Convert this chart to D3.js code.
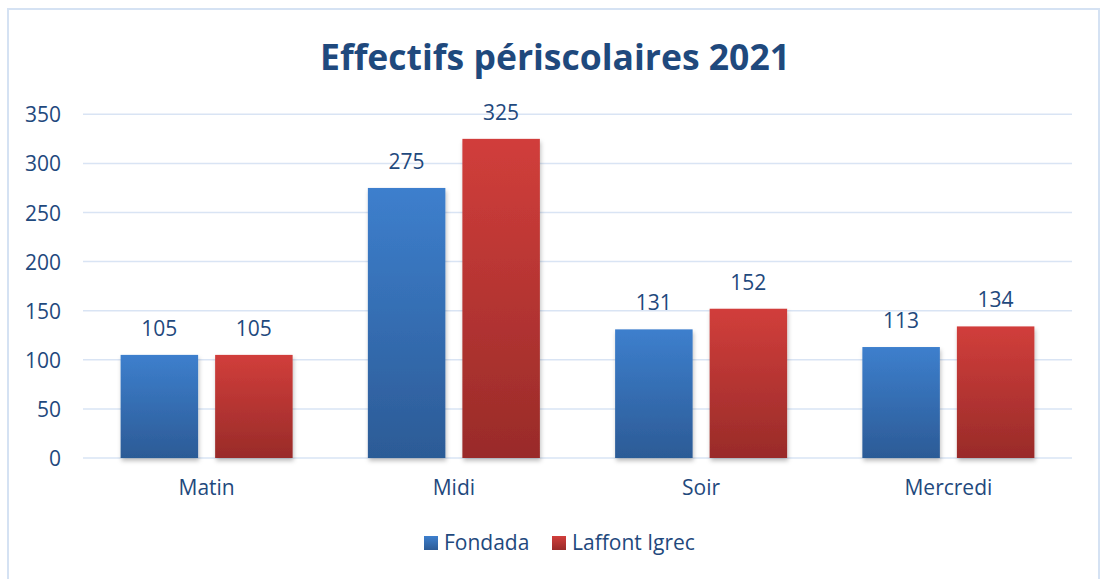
<!DOCTYPE html>
<html><head><meta charset="utf-8">
<script src="https://cdn.jsdelivr.net/npm/d3@7"></script>
<style>body{margin:0;background:#fff;}svg{display:block;font-family:"Open Sans",sans-serif;}</style>
</head><body>
<svg id="c" width="1102" height="579"></svg>
<script>
const categories = ["Matin", "Midi", "Soir", "Mercredi"];
const seriesNames = ["Fondada", "Laffont Igrec"];
const fondada = [105, 275, 131, 113];
const laffont = [105, 325, 152, 134];
const yTicks = [0, 50, 100, 150, 200, 250, 300, 350];
const title = "Effectifs périscolaires 2021";

const svg = d3.select("#c");
const textColor = "#1f497d";
const defs = svg.append("defs");
function grad(id, top, bottom){
  const g = defs.append("linearGradient").attr("id", id).attr("x1",0).attr("y1",0).attr("x2",0).attr("y2",1);
  g.append("stop").attr("offset","0%").attr("stop-color", top);
  g.append("stop").attr("offset","100%").attr("stop-color", bottom);
}
grad("gBlue", "#3d7fcd", "#2c5b96");
grad("gRed", "#d13e3b", "#992b29");
const f = defs.append("filter").attr("id","sh").attr("x","-10%").attr("y","-10%").attr("width","130%").attr("height","130%");
f.append("feDropShadow").attr("dx",1).attr("dy",3).attr("stdDeviation",2).attr("flood-color","#000").attr("flood-opacity",0.25);

// border
svg.append("rect").attr("x",8).attr("y",9).attr("width",1091).attr("height",580)
  .attr("fill","none").attr("stroke","#d5e2f3").attr("stroke-width",2);

const L = 83, R = 1072, T = 114.3, B = 458;
const y = d3.scaleLinear().domain([0,350]).range([B,T]);
const x0 = d3.scaleBand().domain(categories).range([L,R]).paddingInner(0).paddingOuter(0);
const x1 = d3.scaleBand().domain(seriesNames).range([0, x0.bandwidth()]).paddingInner(0.18).paddingOuter(0.398);

// gridlines
svg.append("g").selectAll("line").data(yTicks).join("line")
  .attr("x1",L).attr("x2",R).attr("y1",d=>y(d)).attr("y2",d=>y(d))
  .attr("stroke","#d9e4f4").attr("stroke-width",1.5);

// y axis labels
const yAxis = d3.axisLeft(y).tickValues(yTicks).tickSize(0).tickPadding(0);
const ya = svg.append("g").attr("transform",`translate(61,0)`).call(yAxis);
ya.select(".domain").remove();
ya.selectAll("text").attr("fill",textColor).style("font-size","21px").style("font-family","'Open Sans',sans-serif").attr("dy","0.36em");

// bars
const data = categories.map((c,i)=>({cat:c, vals:[{s:seriesNames[0], v:fondada[i], g:"url(#gBlue)"},{s:seriesNames[1], v:laffont[i], g:"url(#gRed)"}]}));
const groups = svg.append("g").selectAll("g").data(data).join("g").attr("transform",d=>`translate(${x0(d.cat)},0)`);
groups.selectAll("rect").data(d=>d.vals).join("rect")
  .attr("x",d=>x1(d.s)).attr("width",x1.bandwidth())
  .attr("y",d=>y(d.v)).attr("height",d=>y(0)-y(d.v))
  .attr("fill",d=>d.g).attr("filter","url(#sh)");
groups.selectAll("text").data(d=>d.vals).join("text")
  .attr("x",d=>x1(d.s)+x1.bandwidth()/2).attr("y",d=>y(d.v)-19)
  .attr("text-anchor","middle").attr("fill",textColor).style("font-size","21px")
  .text(d=>d.v);

// x axis labels
const xAxis = d3.axisBottom(x0).tickSize(0).tickPadding(0);
const xa = svg.append("g").attr("transform",`translate(0,${B})`).call(xAxis);
xa.select(".domain").remove();
xa.selectAll("text").attr("fill",textColor).style("font-size","21px").style("font-family","'Open Sans',sans-serif").attr("y",37).attr("dy",0);

// title
svg.append("text").attr("x",555).attr("y",70).attr("text-anchor","middle")
  .attr("fill","#1f497d").style("font-size","35.5px").style("font-weight","bold").text(title);

// legend
const leg = svg.append("g");
const legItems = [{n:seriesNames[0], g:"url(#gBlue)", x:424},{n:seriesNames[1], g:"url(#gRed)", x:552}];
leg.selectAll("rect").data(legItems).join("rect").attr("x",d=>d.x).attr("y",536).attr("width",14).attr("height",14).attr("fill",d=>d.g);
leg.selectAll("text").data(legItems).join("text").attr("x",d=>d.x+20).attr("y",550)
  .attr("fill",textColor).style("font-size","21px").text(d=>d.n);
</script>
</body></html>
